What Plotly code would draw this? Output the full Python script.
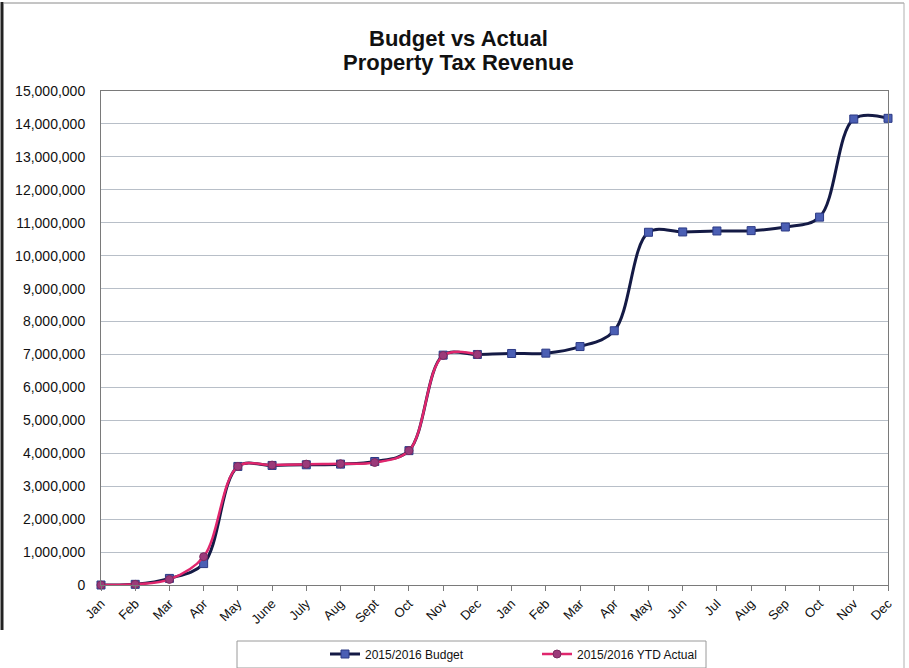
import plotly.graph_objects as go

months = ["Jan", "Feb", "Mar", "Apr", "May", "June", "July", "Aug", "Sept", "Oct", "Nov", "Dec",
          "Jan", "Feb", "Mar", "Apr", "May", "Jun", "Jul", "Aug", "Sep", "Oct", "Nov", "Dec"]
budget = [0, 20000, 200000, 650000, 3600000, 3630000, 3650000, 3670000, 3750000, 4080000, 6980000, 7000000,
          7030000, 7040000, 7240000, 7720000, 10710000, 10720000, 10750000, 10760000, 10870000, 11170000, 14150000, 14170000]
actual = [0, 20000, 170000, 860000, 3600000, 3640000, 3670000, 3680000, 3720000, 4080000, 6970000, 7000000]
title_lines = ["Budget vs Actual", "Property Tax Revenue"]

xpos = list(range(len(months)))
FONT = "Liberation Sans, Arial, sans-serif"

fig = go.Figure()
fig.add_trace(go.Scatter(
    x=xpos, y=budget, name="2015/2016 Budget", mode="lines+markers",
    line=dict(color="#141a45", width=3, shape="spline", smoothing=1.0),
    marker=dict(symbol="square", size=8, color="#4b5fb4", line=dict(color="#2c3a85", width=1)),
    cliponaxis=False,
))
fig.add_trace(go.Scatter(
    x=xpos[:len(actual)], y=actual, name="2015/2016 YTD Actual", mode="lines+markers",
    line=dict(color="#e0266d", width=2.5, shape="spline", smoothing=1.0),
    marker=dict(symbol="circle", size=8, color="#9b3a7a", line=dict(color="#7a2a60", width=1)),
    cliponaxis=False,
))

W, H = 909, 668
L, R, T, B = 101, 888, 91, 585
PW, PH = R - L, B - T

def px(xp):
    return (xp - L) / PW

def py(yp):
    return (B - yp) / PH

annotations = [
    dict(text="<b>%s</b>" % title_lines[0], xref="paper", yref="paper", x=px(458), y=py(38),
         xanchor="center", yanchor="middle", showarrow=False,
         font=dict(size=22, family=FONT, color="#111111")),
    dict(text="<b>%s</b>" % title_lines[1], xref="paper", yref="paper", x=px(458), y=py(63),
         xanchor="center", yanchor="middle", showarrow=False,
         font=dict(size=22, family=FONT, color="#111111")),
]

fig.update_layout(
    width=W, height=H,
    margin=dict(l=L, r=W - R, t=T, b=H - B),
    paper_bgcolor="white", plot_bgcolor="white",
    font=dict(family=FONT, color="#111111"),
    annotations=annotations,
    showlegend=True,
    legend=dict(orientation="h", x=px(325), xanchor="left",
                yref="container", y=1 - 654 / H, yanchor="middle",
                font=dict(size=12, family=FONT), entrywidth=167, entrywidthmode="pixels",
                bgcolor="rgba(0,0,0,0)", traceorder="normal"),
    shapes=[
        dict(type="rect", xref="paper", yref="paper",
             x0=px(237), x1=px(706), y0=py(668), y1=py(641),
             line=dict(color="#9a9a9a", width=1)),
        dict(type="line", xref="paper", yref="paper",
             x0=px(2), x1=px(2), y0=py(630), y1=py(2),
             line=dict(color="#222222", width=3)),
        dict(type="line", xref="paper", yref="paper",
             x0=px(3), x1=px(904), y0=py(3), y1=py(3),
             line=dict(color="#8a8a8a", width=1)),
        dict(type="line", xref="paper", yref="paper",
             x0=px(904), x1=px(904), y0=py(668), y1=py(3),
             line=dict(color="#b0b0b0", width=1)),
    ],
)

fig.update_xaxes(
    range=[0, len(months) - 1], tickmode="array", tickvals=xpos, ticktext=months,
    tickangle=-45, tickfont=dict(size=13, family=FONT), automargin=False,
    showgrid=False, zeroline=False,
    showline=True, linecolor="#7a7a7a", linewidth=1, mirror=True,
    ticks="outside", ticklen=5, tickcolor="#7a7a7a",
)
fig.update_yaxes(
    range=[0, 15000000], dtick=1000000, tickformat=",",
    tickfont=dict(size=14, family=FONT), automargin=False, ticklabelstandoff=12,
    showgrid=True, gridcolor="#b8bfc8", gridwidth=1, zeroline=False,
    showline=True, linecolor="#7a7a7a", linewidth=1, mirror=True,
    ticks="",
)

fig.write_html("out.html", config={"displayModeBar": False},
               post_script="document.body.style.margin='0';document.body.style.overflow='hidden';")
